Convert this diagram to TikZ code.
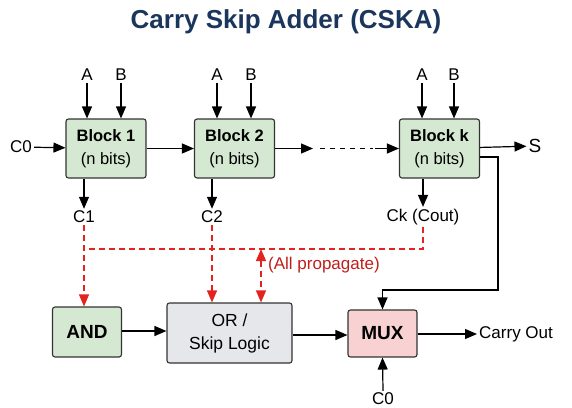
\documentclass[tikz,border=0pt]{standalone}
\usepackage{fontspec}
\setmainfont{Liberation Sans}
\usetikzlibrary{arrows.meta,positioning}
\definecolor{cskanavy}{HTML}{1B365D}
\definecolor{cskaink}{HTML}{333333}
\definecolor{cskagreen}{HTML}{D5E8D2}
\definecolor{cskagray}{HTML}{E6E7EA}
\definecolor{cskapink}{HTML}{F8D2D3}
\definecolor{cskared}{HTML}{E2231F}

\begin{document}
\begin{tikzpicture}[x=1pt,y=-1pt,
    box/.style={draw=cskaink,line width=1.1pt,rounded corners=2.5pt,
      align=center,inner sep=0pt},
    blockbox/.style={box,fill=cskagreen,minimum width=80pt,minimum height=59pt,
      font=\fontsize{16.5}{23}\selectfont},
    gatebox/.style={box,minimum height=48pt,font=\fontsize{19}{22}\selectfont\bfseries},
    lbl/.style={font=\fontsize{17}{20}\selectfont,inner sep=2pt},
    wire/.style={-{Triangle[length=12pt,width=10pt]},line width=1.2pt},
    redwire/.style={wire,draw=cskared,dash pattern=on 6pt off 4pt}]
    \useasboundingbox (0,0) rectangle (572,407);
    \node[text=cskanavy,font=\fontsize{26}{28}\selectfont\bfseries] (title) at (286,22)
      {Carry Skip Adder (CSKA)};
    % adder blocks
    \node[blockbox] (blk1) at (106,148.5) {\textbf{Block 1}\\(n bits)};
    \node[blockbox] (blk2) at (234.5,148.5) {\textbf{Block 2}\\(n bits)};
    \node[blockbox] (blkk) at (439.5,148.5) {\textbf{Block k}\\(n bits)};
    % operand inputs
    \foreach \b/\xa/\xb in {1/87/121,2/217/251,k/422/454} {
      \node[lbl] (a\b) at (\xa,75) {A};
      \node[lbl] (b\b) at (\xb,75) {B};
      \draw[wire] (a\b.south) -- (a\b.south |- blk\b.north);
      \draw[wire] (b\b.south) -- (b\b.south |- blk\b.north);
    }
    % carry chain
    \node[lbl] (cin) at (21,147) {C0};
    \coordinate (gapl) at (320,148.5);
    \coordinate (gapr) at (373,148.5);
    \draw[wire] (cin) -- (blk1);
    \draw[wire] (blk1) -- (blk2);
    \draw[wire] (blk2.east) -- ([xshift=-7pt]gapl);
    \draw[line width=1.2pt,dash pattern=on 5pt off 5pt] (gapl) -- (gapr);
    \draw[wire] ([xshift=2pt]gapr) -- (blkk.west);
    \node[lbl,font=\fontsize{19}{20}\selectfont] (sum) at (535,146) {S};
    \draw[wire] (blkk) -- (sum);
    % block carries
    \node[lbl] (c1) at (84,217) {C1};
    \node[lbl] (c2) at (212,217) {C2};
    \node[lbl] (ck) at (423,217) {Ck (Cout)};
    \draw[wire] (blk1.south -| c1) -- (c1.north);
    \draw[wire] (blk2.south -| c2) -- (c2.north);
    \draw[wire] (blkk.south -| ck) -- (ck.north);
    % skip logic
    \node[gatebox,fill=cskagreen,minimum width=69pt,minimum height=50pt] (and) at (87,332) {AND};
    \node[box,fill=cskagray,minimum width=125pt,minimum height=60pt,
      font=\fontsize{17.5}{23}\selectfont] (or) at (229.5,333) {OR /\\Skip Logic};
    \node[gatebox,fill=cskapink,minimum width=69pt,minimum height=47pt] (mux) at (382.5,333.5) {MUX};
    \node[lbl,anchor=west] (cout) at (477,334) {Carry Out};
    \node[lbl] (cmux) at (383,399) {C0};
    \draw[wire] (and.east |- 0,331) -- (or.west |- 0,331);
    \draw[wire] (or.east |- 0,335) -- (mux.west |- 0,335);
    \draw[wire] (mux.east |- cout) -- (cout.west);
    \draw[wire] (cmux.north) -- (mux.south);
    \coordinate (turn) at (498,290);
    \draw[wire] (blkk.east |- 0,157) -| (turn) -| (mux.north);
    % propagate signals
    \coordinate (bus) at (261,249);
    \draw[draw=cskared,line width=1.2pt,dash pattern=on 6pt off 4pt]
      (ck.south) |- (c1.south |- bus);
    \draw[redwire] (c1.south) -- (c1.south |- and.north);
    \draw[redwire] (c2.south) -- (c2.south |- or.north);
    \draw[redwire,{Triangle[length=12pt,width=10pt]}-{Triangle[length=12pt,width=10pt]}]
      (bus) -- (bus |- or.north);
    \node[lbl,anchor=west,text=cskared!85!black] (allp) at (266,265) {(All propagate)};
  \end{tikzpicture}
\end{document}
